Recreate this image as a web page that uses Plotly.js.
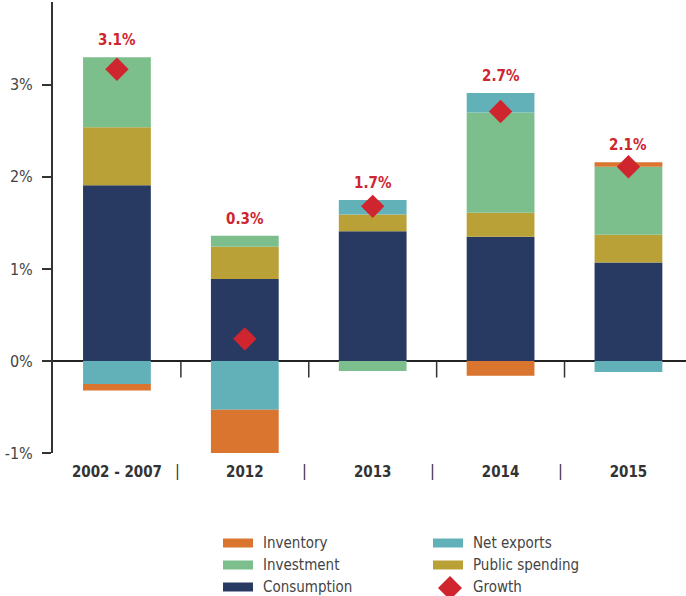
<!DOCTYPE html>
<html><head><meta charset="utf-8">
<script src="https://cdn.plot.ly/plotly-3.0.1.min.js"></script>
<style>html,body{margin:0;padding:0;background:#fff}#chart{width:686px;height:596px}</style>
</head><body><div id="chart"></div>
<script>
const categories = ["2002 - 2007", "2012", "2013", "2014", "2015"];
const consumption = [1.91, 0.89, 1.41, 1.35, 1.07];
const publicSpending = [0.63, 0.35, 0.18, 0.26, 0.30];
const investment = [0.76, 0.12, -0.11, 1.09, 0.74];
const netExports = [-0.25, -0.53, 0.16, 0.21, -0.12];
const inventory = [-0.07, -0.50, 0.00, -0.16, 0.05];
const growth = [3.17, 0.24, 1.68, 2.71, 2.11];
const growthLabels = ["3.1%", "0.3%", "1.7%", "2.7%", "2.1%"];
const yTickVals = [-1, 0, 1, 2, 3];
const yTickText = ["-1%", "0%", "1%", "2%", "3%"];

const FONT = "'Liberation Sans Narrow', 'DejaVu Sans Condensed', 'Roboto', sans-serif";
const colors = {
  Consumption: "#283a62", "Public spending": "#b9a037", Investment: "#7cbe8c",
  "Net exports": "#63b1b8", Inventory: "#d9752e", Growth: "#cf252e"
};
const series = [
  ["Consumption", consumption], ["Public spending", publicSpending],
  ["Investment", investment], ["Net exports", netExports], ["Inventory", inventory]
];
const traces = series.map(([name, vals]) => ({
  type: "bar", name: name, x: categories, y: vals, width: 0.53,
  marker: {color: colors[name]}, hoverinfo: "name+y"
}));
traces.push({
  type: "scatter", mode: "markers", name: "Growth", x: categories, y: growth,
  marker: {symbol: "diamond", size: 18, color: colors.Growth}, cliponaxis: false
});

// plot area geometry (px)
const L = 53, T = 2, W = 633, H = 451;
const px = x => (x - L) / W;
const py = y => (T + H - y) / H;

const shapes = [];
const annotations = [];
// boundary ticks on zero line and separators between category labels
for (let i = 0; i < categories.length - 1; i++) {
  shapes.push({type: "line", xref: "x", yref: "y", x0: i + 0.5, x1: i + 0.5, y0: 0, y1: -0.18,
    line: {color: "#333", width: 1.5}});
  annotations.push({xref: "x", yref: "paper", x: i + 0.47, y: py(471), text: "|", showarrow: false,
    font: {family: FONT, size: 16, color: "#333"}, yanchor: "middle"});
}
// growth labels above positive stack
categories.forEach((c, i) => {
  const top = series.reduce((s, [n, v]) => s + Math.max(0, v[i]), 0);
  annotations.push({x: i, y: top, xref: "x", yref: "y", text: "<b>" + growthLabels[i] + "</b>",
    showarrow: false, yanchor: "bottom", yshift: 6,
    font: {family: FONT, size: 15, color: colors.Growth}});
});
// custom legend
const legendItems = [
  ["Inventory", 223, 543], ["Net exports", 433, 543],
  ["Investment", 223, 565], ["Public spending", 433, 565],
  ["Consumption", 223, 587], ["Growth", 433, 587]
];
legendItems.forEach(([name, x, y]) => {
  if (name === "Growth") {
    const cx = x + 17, cy = y + 1, r = 12;
    shapes.push({type: "path", xref: "paper", yref: "paper",
      path: `M ${px(cx - r)},${py(cy)} L ${px(cx)},${py(cy - r)} L ${px(cx + r)},${py(cy)} L ${px(cx)},${py(cy + r)} Z`,
      fillcolor: colors.Growth, line: {width: 0}});
  } else {
    shapes.push({type: "rect", xref: "paper", yref: "paper",
      x0: px(x), x1: px(x + 30), y0: py(y + 4.5), y1: py(y - 4.5),
      fillcolor: colors[name], line: {width: 0}});
  }
  annotations.push({xref: "paper", yref: "paper", x: px(x + 38), y: py(y), text: name,
    xanchor: "left", yanchor: "middle", showarrow: false,
    font: {family: FONT, size: 15, color: "#444"}});
});

const layout = {
  width: 686, height: 596,
  margin: {l: L, r: 686 - L - W, t: T, b: 596 - T - H},
  barmode: "relative", showlegend: false,
  paper_bgcolor: "#fff", plot_bgcolor: "#fff",
  font: {family: FONT, color: "#333"},
  xaxis: {type: "category", range: [-0.5, 4.45], showgrid: false, showline: false, zeroline: false,
    ticks: "", tickfont: {family: FONT, size: 15, color: "#333", weight: "bold"}, ticklabelstandoff: 8},
  yaxis: {range: [-1, 3.9], tickvals: yTickVals, ticktext: yTickText, showgrid: false,
    showline: true, linecolor: "#333", linewidth: 2, ticks: "outside", ticklen: 9, tickwidth: 1.5,
    tickcolor: "#333", zeroline: true, zerolinecolor: "#222", zerolinewidth: 2.5,
    tickfont: {family: FONT, size: 16, color: "#444"}, ticklabelstandoff: 6},
  shapes: shapes, annotations: annotations
};
Plotly.newPlot("chart", traces, layout, {displayModeBar: false, staticPlot: true});
</script></body></html>
